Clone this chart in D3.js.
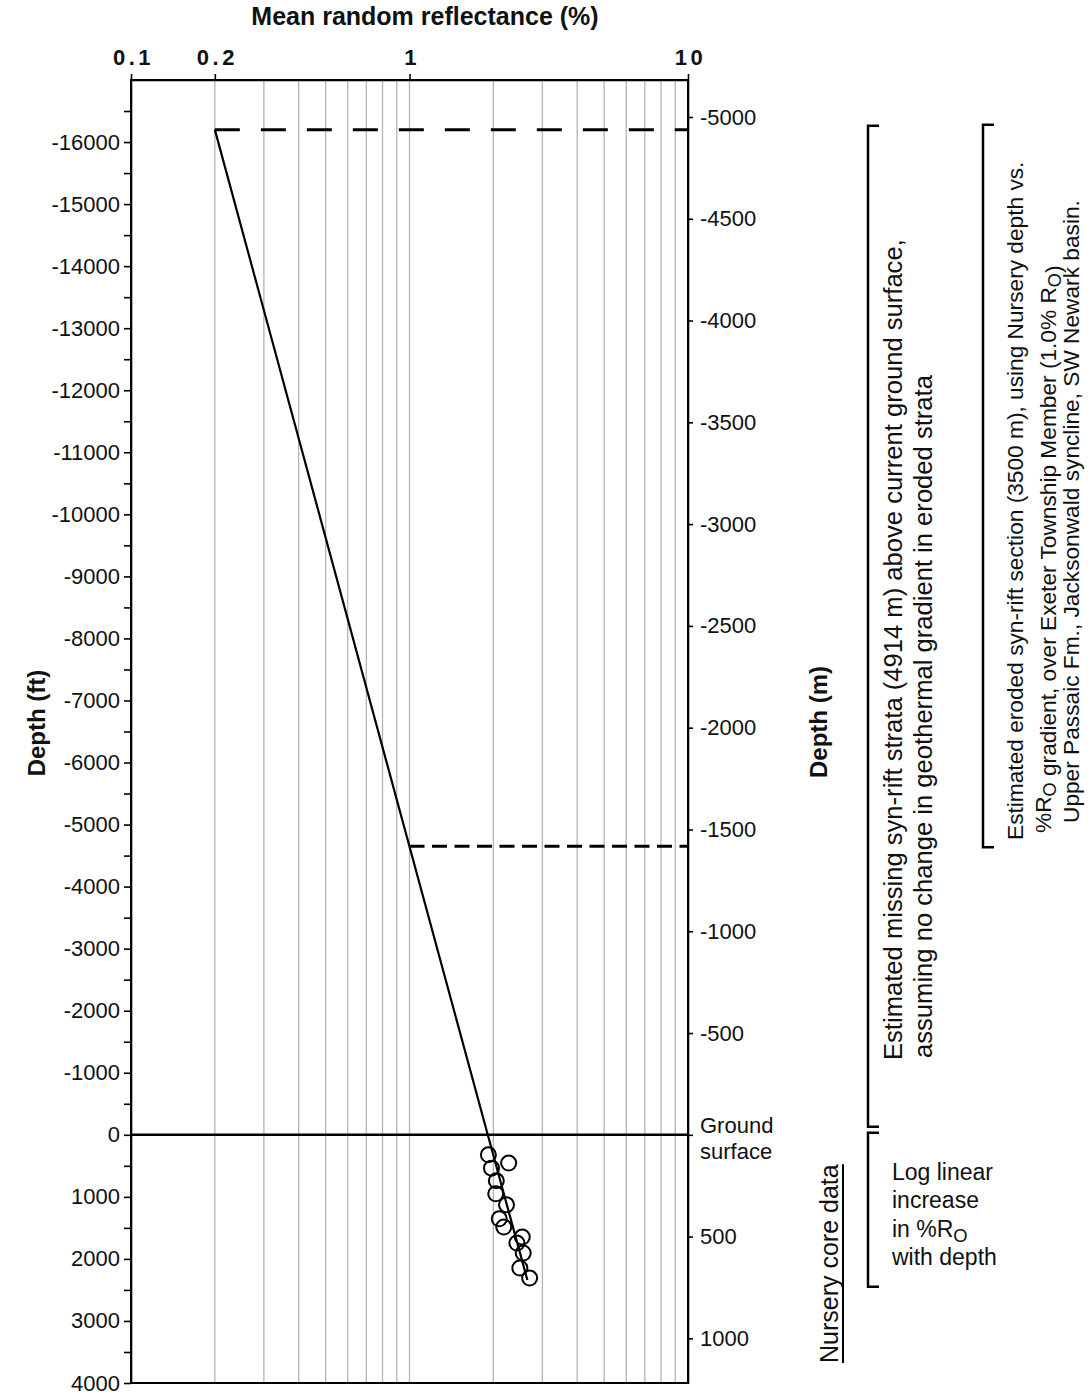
<!doctype html>
<html>
<head>
<meta charset="utf-8">
<style>
    body {
        margin: 0;
        background: #fff;
        width: 1092px;
        height: 1396px;
    }
    svg text {
        font-family: "Liberation Sans", Arial, Helvetica, sans-serif;
        fill: #111;
    }
    .grid line {
        stroke: #b4b4b4;
        stroke-width: 1.3;
    }
    .axis line, .axis path {
        stroke: #000;
        stroke-width: 1.6;
    }
</style>
<script src="https://d3js.org/d3.v7.min.js"></script>
</head>
<body>
<div id="chart"></div>
<script>
    // reflectance (%) labels on top and vertical grid lines
    var roLabels = [0.1, 0.2, 1, 10];
    var roGrid = [0.2, 0.3, 0.4, 0.5, 0.6, 0.7, 0.8, 0.9, 1, 2, 3, 4, 5, 6, 7, 8, 9];

    // depth axis ticks
    var ftLabels = [-16000, -15000, -14000, -13000, -12000, -11000, -10000, -9000, -8000,
                    -7000, -6000, -5000, -4000, -3000, -2000, -1000, 0, 1000, 2000, 3000, 4000];
    var ftMinor = [-16500, -15500, -14500, -13500, -12500, -11500, -10500, -9500, -8500,
                   -7500, -6500, -5500, -4500, -3500, -2500, -1500, -500, 500, 1500, 2500, 3500];
    var mLabels = [-5000, -4500, -4000, -3500, -3000, -2500, -2000, -1500, -1000, -500, 0, 500, 1000];

    // Nursery core samples (%Ro, depth ft)
    var coreRo = [1.92, 2.27, 1.97, 2.05, 2.04, 2.23, 2.10, 2.18, 2.54, 2.43, 2.56, 2.49, 2.70];
    var coreFt = [322, 456, 537, 741, 951, 1128, 1354, 1487, 1648, 1745, 1906, 2148, 2309];

    // fitted log-linear gradient, extrapolated upward
    var trendRo = [0.2, 1.91, 2.65];
    var trendFt = [-16200, 0, 2340];

    // horizons
    var erodedTopFt = -16200;   // top of eroded section, 0.2 %Ro
    var exeterFt = -4650;       // Exeter Township Member, 1.0 %Ro

    var margin = {top: 80, right: 404, bottom: 13, left: 131},
        width = 1092 - margin.left - margin.right,
        height = 1396 - margin.top - margin.bottom;

    var root = d3.select("#chart")
        .append("svg")
            .attr("width", 1092)
            .attr("height", 1396);

    var svg = root.append("g")
        .attr("transform", "translate(" + margin.left + "," + margin.top + ")");

    var x = d3.scaleLog()
        .domain([0.1, 10])
        .range([0, width]);

    var y = d3.scaleLinear()
        .domain([-17000, 4000])
        .range([0, height]);

    // same depth in metres for the right side
    var yM = d3.scaleLinear()
        .domain([-17000 * 0.3048, 4000 * 0.3048])
        .range([0, height]);

    // grid
    svg.append("g")
        .attr("class", "grid")
        .selectAll("line")
        .data(roGrid)
        .enter()
        .append("line")
        .attr("x1", function(d) { return x(d); })
        .attr("x2", function(d) { return x(d); })
        .attr("y1", 0)
        .attr("y2", height);

    // left axis
    var leftAxis = svg.append("g")
        .attr("class", "axis")
        .call(d3.axisLeft(y).tickValues(ftLabels).tickSize(7).tickSizeOuter(0).tickPadding(4)
            .tickFormat(function(d) { return String(d); }));
    leftAxis.selectAll("text").style("font-size", "22px");

    svg.append("g")
        .attr("class", "axis")
        .call(d3.axisLeft(y).tickValues(ftMinor).tickSize(7).tickFormat(""))
        .select(".domain").remove();

    // top axis
    var topAxis = svg.append("g")
        .attr("class", "axis")
        .call(d3.axisTop(x).tickValues(roLabels).tickSize(6).tickSizeOuter(0).tickPadding(9)
            .tickFormat(function(d) { return String(d); }));
    topAxis.selectAll("text")
        .style("font-size", "22px")
        .style("font-weight", "bold")
        .style("letter-spacing", "3.5px")
        .attr("dx", "2px");

    // right axis (metres)
    var rightAxis = svg.append("g")
        .attr("class", "axis")
        .attr("transform", "translate(" + width + ",0)")
        .call(d3.axisRight(yM).tickValues(mLabels).tickSize(5).tickSizeOuter(0).tickPadding(7)
            .tickFormat(function(d) { return d === 0 ? "" : String(d); }));
    rightAxis.selectAll("text").style("font-size", "22px");

    rightAxis.append("text")
        .attr("x", 12).attr("y", y(0) - 2)
        .style("font-size", "22px")
        .text("Ground");
    rightAxis.append("text")
        .attr("x", 12).attr("y", y(0) + 24)
        .style("font-size", "22px")
        .text("surface");

    // frame
    svg.append("rect")
        .attr("width", width)
        .attr("height", height)
        .attr("fill", "none")
        .attr("stroke", "#000")
        .attr("stroke-width", 2);

    // ground surface
    svg.append("line")
        .attr("x1", 0).attr("x2", width)
        .attr("y1", y(0)).attr("y2", y(0))
        .attr("stroke", "#000")
        .attr("stroke-width", 2.5);

    // dashed horizons
    svg.append("line")
        .attr("x1", x(0.2)).attr("x2", width)
        .attr("y1", y(erodedTopFt)).attr("y2", y(erodedTopFt))
        .attr("stroke", "#000")
        .attr("stroke-width", 3)
        .attr("stroke-dasharray", "25,21");

    svg.append("line")
        .attr("x1", x(1)).attr("x2", width)
        .attr("y1", y(exeterFt)).attr("y2", y(exeterFt))
        .attr("stroke", "#000")
        .attr("stroke-width", 3)
        .attr("stroke-dasharray", "15,7.5");

    // gradient line
    var trend = trendRo.map(function(d, i) { return {ro: d, ft: trendFt[i]}; });
    svg.append("path")
        .datum(trend)
        .attr("fill", "none")
        .attr("stroke", "#000")
        .attr("stroke-width", 2.2)
        .attr("d", d3.line()
            .x(function(d) { return x(d.ro); })
            .y(function(d) { return y(d.ft); }));

    // core data
    var core = coreRo.map(function(d, i) { return {ro: d, ft: coreFt[i]}; });
    svg.append("g")
        .selectAll("circle")
        .data(core)
        .enter()
        .append("circle")
        .attr("cx", function(d) { return x(d.ro); })
        .attr("cy", function(d) { return y(d.ft); })
        .attr("r", 7.5)
        .attr("fill", "none")
        .attr("stroke", "#000")
        .attr("stroke-width", 2);

    // titles
    root.append("text")
        .attr("x", 425).attr("y", 25)
        .attr("text-anchor", "middle")
        .style("font-size", "25px")
        .style("font-weight", "bold")
        .text("Mean random reflectance (%)");

    root.append("text")
        .attr("transform", "translate(45,723) rotate(-90)")
        .attr("text-anchor", "middle")
        .style("font-size", "24px")
        .style("font-weight", "bold")
        .text("Depth (ft)");

    root.append("text")
        .attr("transform", "translate(827,722) rotate(-90)")
        .attr("text-anchor", "middle")
        .style("font-size", "24px")
        .style("font-weight", "bold")
        .text("Depth (m)");

    // brackets
    var yTop = margin.top + y(erodedTopFt), yGround = margin.top + y(0);
    function bracket(xv, y1, y2) {
        root.append("path")
            .attr("d", "M" + (xv + 11) + "," + y1 + "H" + xv + "V" + y2 + "H" + (xv + 11))
            .attr("fill", "none")
            .attr("stroke", "#000")
            .attr("stroke-width", 2.5);
    }
    bracket(868, yTop - 4, yGround - 8);
    bracket(868, yGround - 2, margin.top + y(2450));
    bracket(983, yTop - 5, margin.top + y(exeterFt) + 1);

    // write text pieces; objects {sub: "O"} become subscripts
    function addParts(t, parts, size) {
        parts.forEach(function(p) {
            if (typeof p === "object") {
                t.append("tspan").attr("dy", 5).style("font-size", (size * 0.8) + "px").text(p.sub);
                t.append("tspan").attr("dy", -5).text("");
            } else {
                t.append("tspan").text(p);
            }
        });
    }

    function rotText(tx, ty, size, parts) {
        var t = root.append("text")
            .attr("transform", "translate(" + tx + "," + ty + ") rotate(-90)")
            .style("font-size", size + "px");
        addParts(t, parts, size);
        return t;
    }

    rotText(902, 1060, 25.6, ["Estimated missing syn-rift strata (4914 m) above current ground surface,"]);
    rotText(932, 1058, 25.6, ["assuming no change in geothermal gradient in eroded strata"]);

    rotText(1023, 840, 22.7, ["Estimated eroded syn-rift section (3500 m), using Nursery depth vs."]);
    rotText(1051, 833, 22.7, ["%R", {sub: "O"}, " gradient, over Exeter Township Member (1.0% R", {sub: "O"}, ")"]);
    rotText(1079, 823, 22.7, ["Upper Passaic Fm., Jacksonwald syncline, SW Newark basin."]);

    // log linear note
    var noteLines = [["Log linear"], ["increase"], ["in %R", {sub: "O"}], ["with depth"]];
    noteLines.forEach(function(line, i) {
        var t = root.append("text")
            .attr("x", 892)
            .attr("y", 1180 + i * 28.4)
            .style("font-size", "23px");
        addParts(t, line, 23);
    });

    // Nursery core data, underlined
    var nc = rotText(838, 1363, 25, ["Nursery core data"]);
    var ncLen = nc.node().getComputedTextLength();
    root.append("line")
        .attr("x1", 843).attr("x2", 843)
        .attr("y1", 1363).attr("y2", 1363 - ncLen)
        .attr("stroke", "#000")
        .attr("stroke-width", 2);
</script>
</body>
</html>
